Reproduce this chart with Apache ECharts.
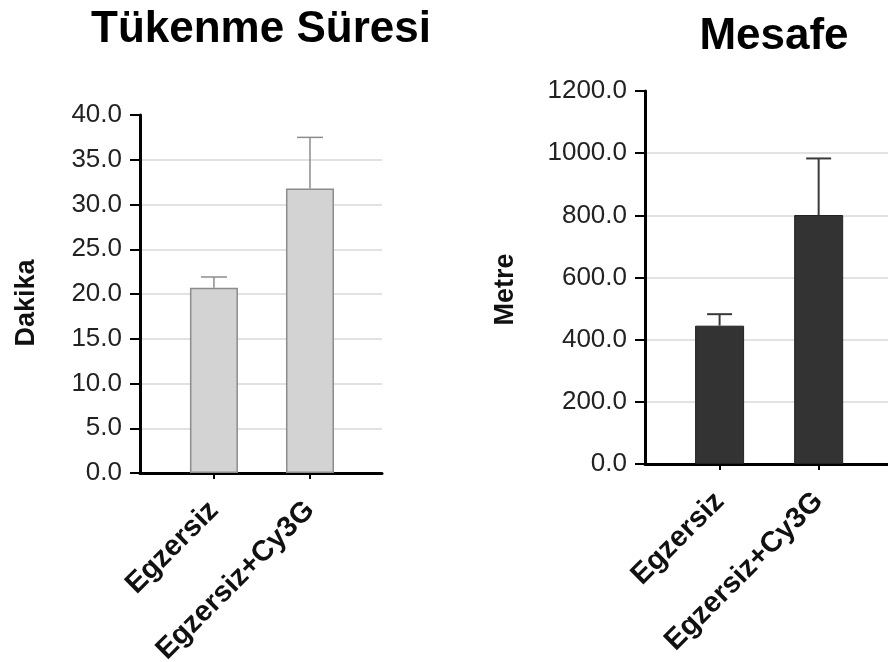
<!DOCTYPE html>
<html>
<head>
<meta charset="utf-8">
<script src="https://cdn.jsdelivr.net/npm/echarts@6/dist/echarts.min.js"></script>
<style>
  html, body { margin: 0; padding: 0; background: #fff; }
  #chart { width: 888px; height: 662px; }
</style>
</head>
<body>
<div id="chart"></div>
<script>
const categories = ["Egzersiz", "Egzersiz+Cy3G"];
// Tükenme Süresi (dakika)
const timeMean = [20.7, 31.8];
const timeUpper = [21.9, 37.5];
const timeTicks = [0, 5, 10, 15, 20, 25, 30, 35, 40];
// Mesafe (metre)
const distMean = [445, 801];
const distUpper = [482, 983];
const distTicks = [0, 200, 400, 600, 800, 1000, 1200];

const FONT = "'Liberation Sans', Arial, Helvetica, sans-serif";
const chart = echarts.init(document.getElementById("chart"));

function xAxisFor(gridIndex, min, max) {
  return {
    gridIndex: gridIndex,
    type: "value",
    min: min,
    max: max,
    splitLine: { show: false },
    axisLine: { show: true, onZero: false, lineStyle: { color: "#000", width: 3 } },
    axisTick: {
      show: true,
      customValues: [0, 1],
      length: 6,
      lineStyle: { color: "#000", width: 2 },
    },
    axisLabel: {
      show: true,
      customValues: [0, 1],
      rotate: 45,
      margin: 33,
      formatter: (v) => categories[Math.round(v)],
      color: "#111",
      fontFamily: FONT,
      fontWeight: "bold",
      fontSize: 29,
    },
  };
}

function yAxisFor(gridIndex, name, ticks, nameGap, nameShift) {
  return {
    gridIndex: gridIndex,
    type: "value",
    min: ticks[0],
    max: ticks[ticks.length - 1],
    interval: ticks[1] - ticks[0],
    name: name,
    nameLocation: "middle",
    nameGap: nameGap,
    nameTextStyle: {
      color: "#111",
      fontFamily: FONT,
      fontWeight: "bold",
      fontSize: 27,
      padding: [0, nameShift, 0, 0],
    },
    axisLine: { show: true, onZero: false, lineStyle: { color: "#000", width: 3 } },
    axisTick: { show: true, length: 10, lineStyle: { color: "#000", width: 2 } },
    axisLabel: {
      margin: 18,
      formatter: (v) => v.toFixed(1),
      color: "#222",
      fontFamily: FONT,
      fontSize: 26,
    },
    splitLine: {
      show: true,
      showMinLine: false,
      showMaxLine: false,
      lineStyle: { color: "#d8d8d8", width: 1.5 },
    },
  };
}

function errorSeries(idx, means, uppers, color, width, cap) {
  return {
    type: "custom",
    xAxisIndex: idx,
    yAxisIndex: idx,
    z: 5,
    data: means.map((m, i) => [i, m, uppers[i]]),
    renderItem: function (params, api) {
      const low = api.coord([api.value(0), api.value(1)]);
      const high = api.coord([api.value(0), api.value(2)]);
      const style = { stroke: color, lineWidth: width };
      return {
        type: "group",
        children: [
          { type: "line", shape: { x1: low[0], y1: low[1], x2: high[0], y2: high[1] }, style: style },
          { type: "line", shape: { x1: high[0] - cap / 2, y1: high[1], x2: high[0] + cap / 2, y2: high[1] }, style: style },
        ],
      };
    },
  };
}

const option = {
  animation: false,
  backgroundColor: "#fff",
  title: [
    {
      text: "Tükenme Süresi",
      left: 256,
      top: 3,
      textAlign: "center",
      textStyle: { fontFamily: FONT, fontWeight: "bold", fontSize: 44, color: "#000" },
    },
    {
      text: "Mesafe",
      left: 769,
      top: 10,
      textAlign: "center",
      textStyle: { fontFamily: FONT, fontWeight: "bold", fontSize: 44, color: "#000" },
    },
  ],
  grid: [
    { left: 140, right: 506, top: 115, bottom: 189, outerBoundsMode: "none", containLabel: false },
    { left: 645, right: 0, top: 91, bottom: 198, outerBoundsMode: "none", containLabel: false },
  ],
  xAxis: [xAxisFor(0, -0.77, 1.75), xAxisFor(1, -0.753, 1.70)],
  yAxis: [yAxisFor(0, "Dakika", timeTicks, 100, 18), yAxisFor(1, "Metre", distTicks, 126, 24)],
  series: [
    {
      type: "bar",
      xAxisIndex: 0,
      yAxisIndex: 0,
      barWidth: 48,
      data: timeMean.map((v, i) => [i, v]),
      itemStyle: { color: "#d3d3d3", borderColor: "#8c8c8c", borderWidth: 1.5 },
    },
    errorSeries(0, timeMean, timeUpper, "#8c8c8c", 1.5, 26),
    {
      type: "bar",
      xAxisIndex: 1,
      yAxisIndex: 1,
      barWidth: 49,
      data: distMean.map((v, i) => [i, v]),
      itemStyle: { color: "#333333", borderColor: "#222", borderWidth: 1 },
    },
    errorSeries(1, distMean, distUpper, "#3a3a3a", 2, 25),
  ],
};

chart.setOption(option);
</script>
</body>
</html>
